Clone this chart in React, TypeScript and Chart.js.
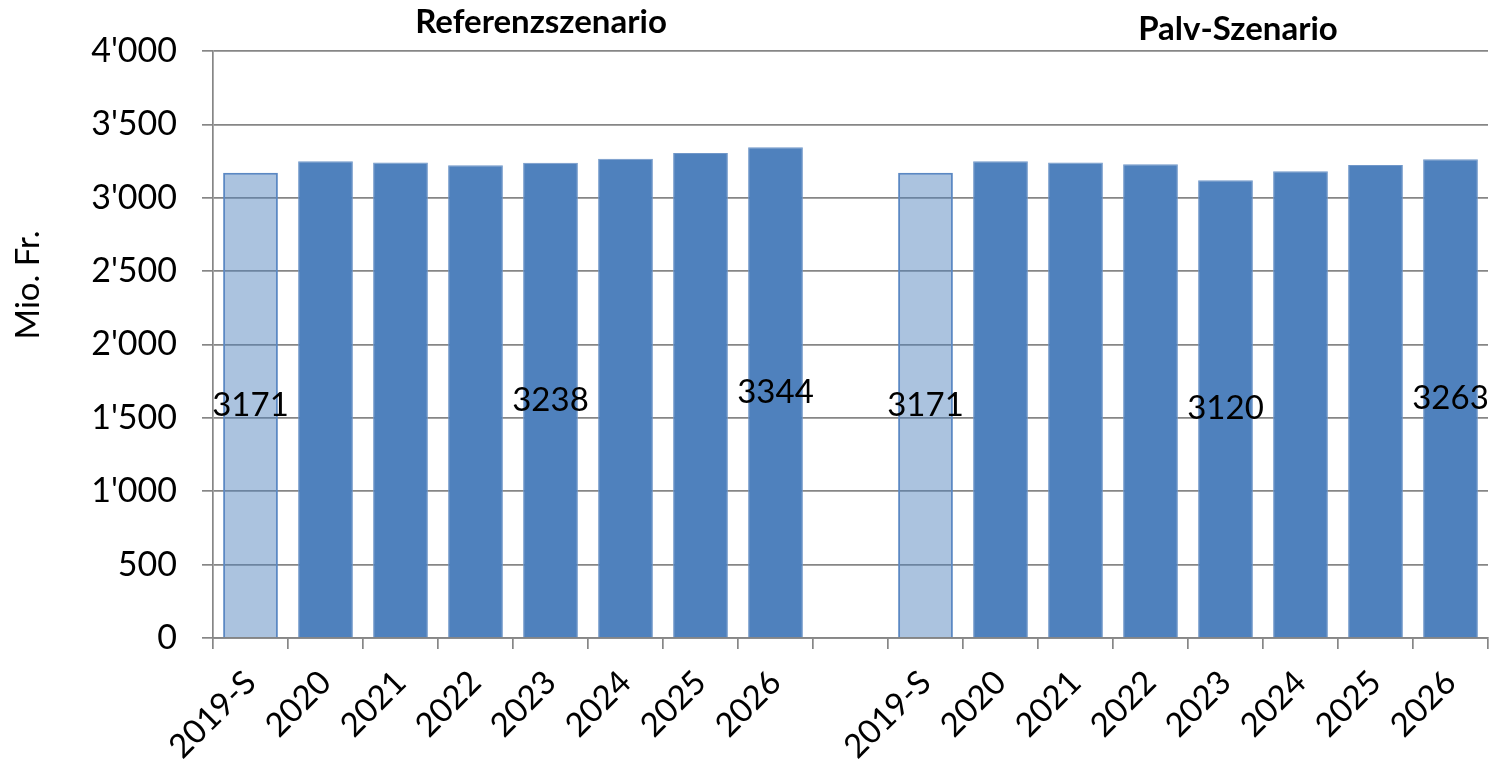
import React, { useEffect, useRef } from "react";
import { Chart, registerables } from "chart.js";

Chart.register(...registerables);

// ---- Data ----
const years = ["2019-S", "2020", "2021", "2022", "2023", "2024", "2025", "2026"];
const referenzValues = [3171, 3248, 3241, 3221, 3238, 3266, 3305, 3344];
const palvValues = [3171, 3248, 3241, 3228, 3120, 3180, 3223, 3263];
const labeledYears = ["2019-S", "2023", "2026"]; // bars that carry a value label
const yTicks = [0, 500, 1000, 1500, 2000, 2500, 3000, 3500, 4000];
const groupTitles = ["Referenzszenario", "Palv-Szenario"];
const yAxisTitle = "Mio. Fr.";

// ---- Derived table ----
const categories = [...years, "", ...years];
const values: (number | null)[] = [...referenzValues, null, ...palvValues];
const showLabel = categories.map((c) => labeledYears.includes(c));

const FONT = "Lato, 'Liberation Sans', sans-serif";
const DARK = "#4F81BD";
const LIGHT_FILL = "rgba(79,129,189,0.48)";
const GRID = "#868686";

const fmt = (v: number) => {
  const s = String(v);
  return s.length > 3 ? s.slice(0, s.length - 3) + "'" + s.slice(-3) : s;
};

const annotatePlugin = {
  id: "annotate",
  afterDatasetsDraw(chart: any) {
    const ctx = chart.ctx;
    const meta = chart.getDatasetMeta(0);
    ctx.save();
    ctx.fillStyle = "#000";
    ctx.textAlign = "center";
    ctx.textBaseline = "middle";
    ctx.font = `33px ${FONT}`;
    meta.data.forEach((bar: any, i: number) => {
      const v = values[i];
      if (v == null || !showLabel[i]) return;
      ctx.fillText(String(v), bar.x, (bar.y + bar.base) / 2);
    });
    // group titles
    ctx.font = `bold 33px ${FONT}`;
    ctx.fillText(groupTitles[0], 541, 22);
    ctx.fillText(groupTitles[1], 1238, 29);
    // y axis title
    ctx.font = `33px ${FONT}`;
    ctx.translate(28, 285);
    ctx.rotate(-Math.PI / 2);
    ctx.fillText(yAxisTitle, 0, 0);
    ctx.restore();
  },
};

export default function App() {
  const ref = useRef<HTMLCanvasElement | null>(null);

  useEffect(() => {
    document.body.style.margin = "0";
    if (!ref.current) return;
    const chart = new Chart(ref.current, {
      type: "bar",
      data: {
        labels: categories,
        datasets: [
          {
            data: values,
            backgroundColor: categories.map((c) => (c === "2019-S" ? LIGHT_FILL : DARK)),
            borderColor: categories.map((c) => (c === "2019-S" ? "#5B88C3" : "#7097C9")),
            borderWidth: categories.map((c) => (c === "2019-S" ? 2 : 1)),
            barPercentage: 0.73,
            categoryPercentage: 1,
          },
        ],
      },
      options: {
        responsive: false,
        animation: false,
        layout: { padding: { top: 51, right: 7, left: 0, bottom: 0 } },
        plugins: {
          legend: { display: false },
          tooltip: { enabled: false },
          title: { display: false },
        },
        scales: {
          x: {
            grid: {
              offset: true,
              drawOnChartArea: false,
              drawTicks: true,
              tickLength: 11,
              color: GRID,
              lineWidth: 1.7,
            },
            border: { display: true, color: GRID, width: 1.7 },
            ticks: {
              autoSkip: false,
              maxRotation: 45,
              minRotation: 45,
              padding: 14,
              color: "#000",
              font: { family: FONT, size: 33 },
            },
            afterFit: (s: any) => {
              s.height = 121;
            },
          },
          y: {
            min: 0,
            max: 4000,
            afterBuildTicks: (s: any) => {
              s.ticks = yTicks.map((v) => ({ value: v }));
            },
            grid: {
              drawTicks: true,
              tickLength: 11,
              color: GRID,
              lineWidth: 1.7,
            },
            border: { display: true, color: GRID, width: 1.7 },
            ticks: {
              padding: 25,
              color: "#000",
              font: { family: FONT, size: 34 },
              callback: (v: any) => fmt(Number(v)),
            },
            afterFit: (s: any) => {
              s.width = 213;
            },
          },
        },
      },
      plugins: [annotatePlugin],
    });
    return () => chart.destroy();
  }, []);

  return (
    <div style={{ width: 1495, height: 759, overflow: "hidden", background: "#fff" }}>
      <canvas ref={ref} width={1495} height={759} style={{ display: "block" }} />
    </div>
  );
}
